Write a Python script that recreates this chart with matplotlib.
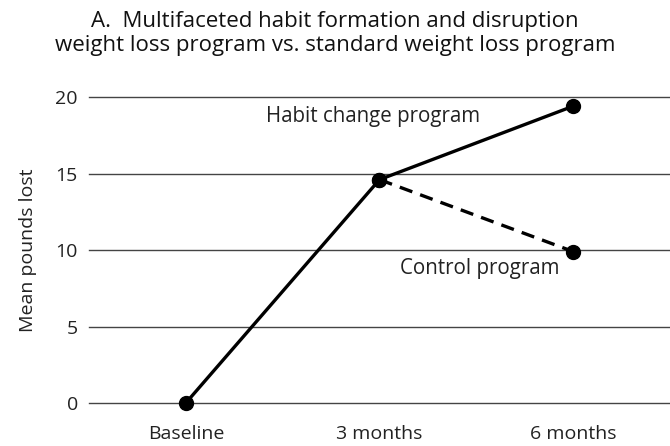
import numpy as np
import matplotlib.pyplot as plt

plt.rcParams['font.family'] = ['Open Sans', 'DejaVu Sans']

# data
time_labels = ['Baseline', '3 months', '6 months']
habit_change = [0, 14.6, 19.4]
control = [14.6, 9.9]
yticks = [0, 5, 10, 15, 20]

x = np.arange(len(time_labels))

fig = plt.figure(figsize=(6.7, 4.46), dpi=100)
ax = fig.add_axes([0.1328, 0.0964, 0.8672, 0.6861])

# horizontal rules instead of a frame
for yv in yticks:
    ax.axhline(yv, color='#444444', lw=1.0, zorder=1, clip_on=False)

# control program (dashed) from 3 months on
ax.plot(x[1:], control, '--', color='black', lw=2.4, dashes=(4, 2.5),
        marker='o', markersize=10, clip_on=False, zorder=3)
# habit change program
ax.plot(x, habit_change, '-', color='black', lw=2.4,
        marker='o', markersize=10, clip_on=False, zorder=4)

ax.text(0.414, 18.75, 'Habit change program', fontsize=14.8,
        ha='left', va='center', color='#222222')
ax.text(1.106, 8.82, 'Control program', fontsize=14.8,
        ha='left', va='center', color='#222222')

ax.set_xlim(-0.5, 2.5)
ax.set_ylim(0, 20)
ax.set_xticks(x)
ax.set_xticklabels(time_labels, fontsize=14, color='#222222')
ax.set_yticks(yticks)
ax.set_yticklabels([str(v) for v in yticks], fontsize=14, color='#222222')
ax.tick_params(length=0, pad=8)
ax.tick_params(axis='x', pad=16)
for s in ax.spines.values():
    s.set_visible(False)

ax.set_ylabel('Mean pounds lost', fontsize=14, color='#222222', labelpad=13)

fig.text(0.5, 0.975, 'A.  Multifaceted habit formation and disruption\n'
         'weight loss program vs. standard weight loss program',
         ha='center', va='top', fontsize=16, color='#111111', linespacing=1.15)

plt.savefig('out.png', dpi=100)
plt.close()
